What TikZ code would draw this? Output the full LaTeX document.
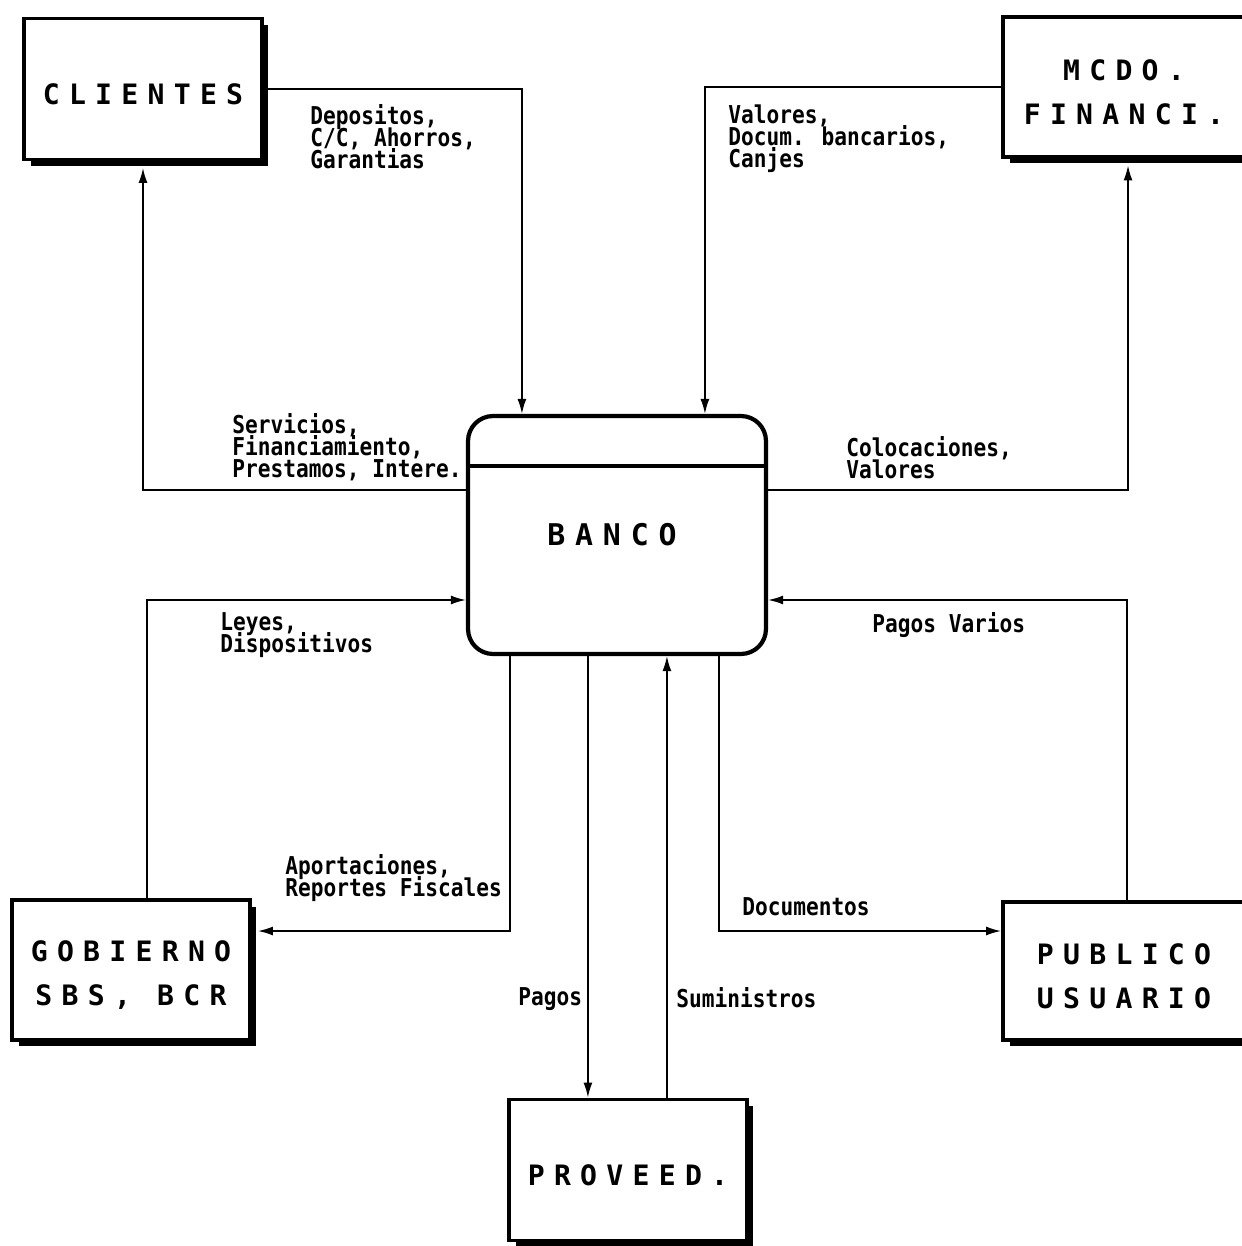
\documentclass[tikz,border=0pt]{standalone}
\usepackage{fontspec}
\usetikzlibrary{arrows.meta,calc,shadows}
\newfontfamily\boxfont{DejaVu Sans Mono}[LetterSpace=33]
\newfontfamily\lblfont{DejaVu Sans Mono}[FakeStretch=0.86]

\newcommand{\uplift}{\rule{0pt}{0.62cm}}

\begin{document}
\begin{tikzpicture}[x=0.02cm,y=-0.02cm]

\def\shd{0.13cm} % <-- shadow offset

\tikzset{
    extbox/.style={
        draw,
        line width=2.2pt,
        fill=white,
        minimum width=4.76cm,
        minimum height=2.82cm,
        inner sep=0pt,
        align=center,
        font=\boxfont\bfseries\fontsize{16}{25}\selectfont,
        drop shadow={shadow xshift=\shd,shadow yshift=-\shd,opacity=1,fill=black}
    },
    procbox/.style={
        draw,
        line width=2.4pt,
        rounded corners=0.5cm,
        minimum width=5.96cm,
        minimum height=4.76cm,
        inner sep=0pt
    },
    flow/.style={
        draw,
        line width=1pt,
        -{Latex[length=0.3cm,width=0.18cm]}
    },
    flowlbl/.style={
        anchor=north west,
        inner sep=0pt,
        align=left,
        font=\lblfont\bfseries\fontsize{14}{12.6}\selectfont\setlength{\lineskiplimit}{-20pt}
    }
}

\useasboundingbox (0,0) rectangle (1241,1246);

% Entities
\node[extbox] (cli) at (143,89) {\uplift CLIENTES};
\node[extbox, minimum width=4.84cm, minimum height=2.8cm] (mcdo) at (1124,87) {\uplift MCDO.\\FINANCI.};
\node[extbox, minimum height=2.8cm] (gob) at (131,970) {\uplift GOBIERNO\\SBS, BCR};
\node[extbox, minimum width=4.84cm, minimum height=2.76cm] (pub) at (1124,971) {\uplift PUBLICO\\USUARIO};
\node[extbox] (prov) at (628,1170) {\uplift PROVEED.};

% Process
\node[procbox] (banco) at (617,535) {};
\node[font=\boxfont\bfseries\fontsize{17}{25}\selectfont] (bancolbl) at (612,535) {BANCO};
\draw[line width=2.4pt] ($(banco.north west)+(0,52)$) -- ($(banco.north east)+(0,52)$);

% Top flows
\draw[flow] (cli.east) -| ($(banco.north west)+(56,0)$);
\draw[flow] (mcdo.west) -| ($(banco.north west)+(239,0)$);
\draw[flow] ($(banco.west)+(0,-45)$) -| ([yshift=-\shd]cli.south);
\draw[flow] ($(banco.east)+(0,-45)$) -| ([yshift=-\shd]$(mcdo.south)+(4,0)$);

% Side flows
\draw[flow] ($(gob.north)+(16,0)$) |- ($(banco.west)+(0,65)$);
\draw[flow] ($(pub.north)+(3,0)$) |- ($(banco.east)+(0,65)$);
\draw[flow] ($(banco.south west)+(44,0)$) |- ($(gob.east)+(6,-39)$);
\draw[flow] ($(banco.south west)+(253,0)$) |- ($(pub.west)+(0,-40)$);

% Bottom flows
\coordinate (pg) at ($(banco.south west)+(122,0)$);
\coordinate (sm) at ($(banco.south west)+(201,0)$);
\draw[flow] (pg) -- (pg |- prov.north);
\draw[flow] (sm |- prov.north) -- (sm);

% Labels
\node[flowlbl] (l1) at (310,104) {Depositos,\\C/C, Ahorros,\\Garantias};
\node[flowlbl] (l2) at (728,104) {Valores,\\Docum. bancarios,\\Canjes};
\node[flowlbl] (l3) at (232,413) {Servicios,\\Financiamiento,\\Prestamos, Intere.};
\node[flowlbl] (l4) at (846,436) {Colocaciones,\\Valores};
\node[flowlbl] (l5) at (220,612) {Leyes,\\Dispositivos};
\node[flowlbl] (l6) at (872,612) {Pagos Varios};
\node[flowlbl] (l7) at (285,854) {Aportaciones,\\Reportes Fiscales};
\node[flowlbl] (l8) at (742,897) {Documentos};
\node[flowlbl] (l9) at (518,987) {Pagos};
\node[flowlbl] (l10) at (676,987) {Suministros};

\end{tikzpicture}
\end{document}
